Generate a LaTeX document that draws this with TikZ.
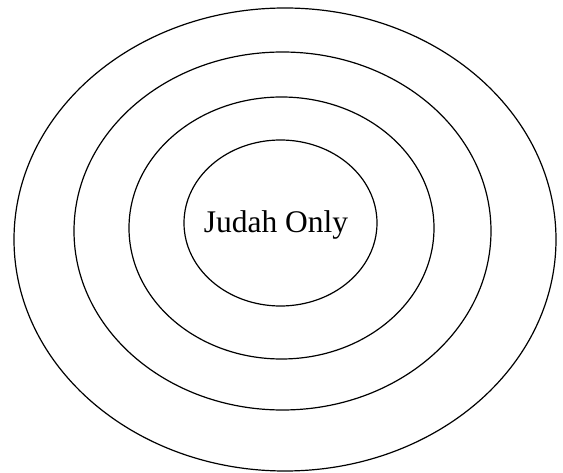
\documentclass[tikz,border=0pt]{standalone}
\usepackage{fontspec}
\setmainfont{Liberation Serif}
\begin{document}
\begin{tikzpicture}[x=1pt,y=-1pt,ring/.style={draw=black,line width=1.2pt}]
\useasboundingbox (0,0) rectangle (563,473);
\draw[ring] (285,239.5) ellipse [x radius=271, y radius=231.5];
\draw[ring] (282.5,231) ellipse [x radius=208.5, y radius=179];
\draw[ring] (281.5,228) ellipse [x radius=152.5, y radius=131];
\draw[ring] (280.5,223) ellipse [x radius=96.5, y radius=83];
\node[font=\fontsize{31.5}{37}\selectfont, anchor=base, inner sep=0pt] (label) at (276,233) {Judah Only};
\end{tikzpicture}
\end{document}
